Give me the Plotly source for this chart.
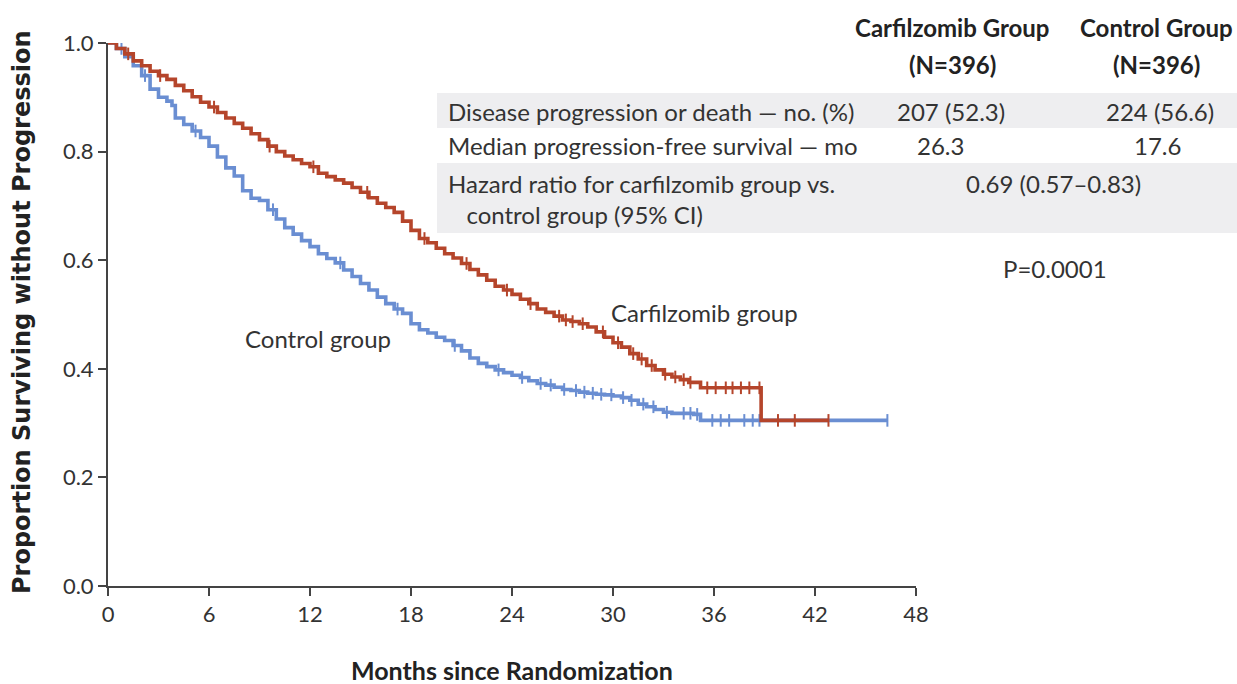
import numpy as np
import plotly.graph_objects as go

# Kaplan-Meier step estimates (months, proportion progression-free)
carf_time = [0, 0.5, 1, 1.5, 2, 2.5, 3, 3.5, 4, 4.5, 5, 5.5, 6, 6.5, 7, 7.5, 8, 8.5, 9, 9.5,
             10, 10.5, 11, 11.5, 12, 12.5, 13, 13.5, 14, 14.5, 15, 15.5, 16, 16.5, 17, 17.5,
             18, 18.5, 19, 19.5, 20, 20.5, 21, 21.5, 22, 22.5, 23, 23.5, 24, 24.5, 25, 25.5,
             26, 26.5, 27, 27.5, 28, 28.5, 29, 29.5, 30, 30.5, 31, 31.5, 32, 32.5, 33, 33.5,
             34, 34.5, 35.2, 38.8, 42.8]
carf_surv = [1.0, 0.99, 0.98, 0.967, 0.958, 0.948, 0.94, 0.933, 0.922, 0.912, 0.901, 0.891,
             0.882, 0.872, 0.862, 0.852, 0.843, 0.833, 0.822, 0.81, 0.80, 0.792, 0.785, 0.778,
             0.772, 0.76, 0.754, 0.748, 0.742, 0.734, 0.725, 0.715, 0.705, 0.697, 0.688, 0.672,
             0.655, 0.64, 0.632, 0.622, 0.612, 0.604, 0.594, 0.583, 0.573, 0.563, 0.552, 0.545,
             0.537, 0.528, 0.52, 0.51, 0.504, 0.497, 0.49, 0.487, 0.483, 0.477, 0.468, 0.458,
             0.448, 0.44, 0.428, 0.418, 0.406, 0.398, 0.39, 0.385, 0.38, 0.375, 0.365, 0.305,
             0.305]

ctrl_time = [0, 0.5, 1, 1.5, 2, 2.5, 3, 3.5, 3.8, 4, 4.5, 5, 5.5, 6, 6.5, 7, 7.5, 8, 8.5, 9,
             9.5, 10, 10.5, 11, 11.5, 12, 12.5, 13, 13.5, 14, 14.5, 15, 15.5, 16, 16.5, 17,
             17.5, 18, 18.5, 19, 19.5, 20, 20.5, 21, 21.5, 22, 22.5, 23, 23.5, 24, 24.5, 25,
             25.5, 26, 26.5, 27, 27.5, 28, 28.5, 29, 29.5, 30, 30.5, 31, 31.5, 32, 32.5, 33,
             33.5, 34.8, 35.2, 46.3]
ctrl_surv = [1.0, 0.99, 0.975, 0.958, 0.94, 0.915, 0.9, 0.893, 0.885, 0.862, 0.85, 0.838,
             0.826, 0.81, 0.79, 0.77, 0.755, 0.728, 0.714, 0.71, 0.693, 0.676, 0.66, 0.648,
             0.636, 0.625, 0.612, 0.603, 0.595, 0.582, 0.57, 0.557, 0.545, 0.532, 0.52, 0.51,
             0.502, 0.483, 0.472, 0.466, 0.458, 0.452, 0.443, 0.433, 0.42, 0.41, 0.404, 0.398,
             0.393, 0.388, 0.384, 0.378, 0.373, 0.37, 0.366, 0.362, 0.36, 0.357, 0.355, 0.353,
             0.352, 0.35, 0.347, 0.342, 0.335, 0.33, 0.325, 0.32, 0.318, 0.316, 0.305, 0.305]

# Censoring times (months)
carf_cens = [1.2, 3.1, 6.3, 9.6, 12.2, 15.4, 18.8, 21.3, 23.7, 25.1, 26.8, 27.2, 27.6, 28.2,
             29.4, 30.3, 31.2, 31.7, 32.3, 33.1, 33.7, 34.2, 34.6, 35.6, 36.1, 36.7, 37.1,
             37.6, 38.1, 38.7, 39.8, 40.8, 42.8]
ctrl_cens = [0.8, 2.2, 5.2, 9.8, 13.8, 17.2, 20.6, 23.2, 24.6, 25.7, 26.3, 27.1, 27.8, 28.3,
             28.8, 29.3, 29.9, 30.6, 31.1, 31.8, 32.4, 33.2, 34.2, 34.6, 35.0, 35.9, 36.4,
             36.9, 37.8, 38.3, 38.7, 46.3]

x_ticks = [0, 6, 12, 18, 24, 30, 36, 42, 48]
y_ticks = [0.0, 0.2, 0.4, 0.6, 0.8, 1.0]

group_head = ["Carfilzomib Group", "Control Group"]
group_n = ["(N=396)", "(N=396)"]
row_labels = ["Disease progression or death \u2014 no. (%)",
              "Median progression-free survival \u2014 mo",
              "Hazard ratio for carfilzomib group vs.<br>   control group (95% CI)"]
carf_vals = ["207 (52.3)", "26.3"]
ctrl_vals = ["224 (56.6)", "17.6"]
hazard_text = "0.69 (0.57\u20130.83)"
p_text = "P=0.0001"

RED = "#B5452B"
BLUE = "#6A8ED2"
INK = "#333333"
FONT = "Lato"

W, H = 1237, 684
ML, MR, MT, MB = 108, 321, 43, 98
PW, PH = W - ML - MR, H - MT - MB


def px(x):
    return (x - ML) / PW


def py(y):
    return (H - MB - y) / PH


def step_at(times, surv, t):
    idx = np.searchsorted(np.asarray(times), np.asarray(t), side="right") - 1
    return np.asarray(surv)[idx]


fig = go.Figure()
for times, surv, cens, col, name in [(ctrl_time, ctrl_surv, ctrl_cens, BLUE, "Control"),
                                     (carf_time, carf_surv, carf_cens, RED, "Carfilzomib")]:
    fig.add_trace(go.Scatter(x=times, y=surv, mode="lines", line=dict(color=col, width=3.6, shape="hv"),
                             name=name, showlegend=False, hoverinfo="skip"))
    fig.add_trace(go.Scatter(x=cens, y=step_at(times, surv, cens), mode="markers",
                             marker=dict(symbol="line-ns", size=9, line=dict(color=col, width=2)),
                             showlegend=False, hoverinfo="skip"))

shapes = [
    dict(type="rect", xref="paper", yref="paper", x0=px(437), x1=px(1237), y0=py(128), y1=py(93),
         fillcolor="#EEEEF0", line=dict(width=0), layer="below"),
    dict(type="rect", xref="paper", yref="paper", x0=px(437), x1=px(1237), y0=py(233), y1=py(163),
         fillcolor="#EEEEF0", line=dict(width=0), layer="below"),
]

ann = []


def add(text, x, y, size=24, anchor="center", bold=False, color=INK, family=FONT, angle=0):
    ann.append(dict(text=f"<b>{text}</b>" if bold else text, x=px(x), y=py(y), xref="paper",
                    yref="paper", xanchor=anchor, yanchor="middle", showarrow=False, textangle=angle,
                    align="center" if anchor == "center" else "left",
                    font=dict(family=family, size=size, color=color)))


add(group_head[0], 952, 27, size=24, bold=True, color="#222222")
add(group_n[0], 952, 64, size=24, bold=True, color="#222222")
add(group_head[1], 1156, 27, size=24, bold=True, color="#222222")
add(group_n[1], 1156, 64, size=24, bold=True, color="#222222")
add(row_labels[0], 446, 111, anchor="left")
add(row_labels[1], 446, 146, anchor="left")
add(row_labels[2], 446, 199, anchor="left")
add(carf_vals[0], 951, 111)
add(ctrl_vals[0], 1160, 111)
add(carf_vals[1], 940, 146)
add(ctrl_vals[1], 1157, 146)
add(hazard_text, 1053, 183)
add(p_text, 1055, 268)
add("Carfilzomib group", 704, 312)
add("Control group", 318, 339)
add("Months since Randomization", 512, 670, size=25, bold=True, color="#222222")
add("Proportion Surviving without Progression", 22, 312, size=24, bold=True, color="#222222",
    family="DejaVu Sans", angle=-90)

axis_common = dict(showline=True, linecolor="#444444", linewidth=2, ticks="outside", ticklen=8,
                   tickwidth=2, tickcolor="#444444", showgrid=False, zeroline=False,
                   tickfont=dict(family=FONT, size=22, color=INK))

fig.update_layout(
    width=W, height=H, margin=dict(l=ML, r=MR, t=MT, b=MB),
    paper_bgcolor="white", plot_bgcolor="white",
    xaxis=dict(range=[0, 48], tickvals=x_ticks, ticktext=[str(v) for v in x_ticks], **axis_common),
    yaxis=dict(range=[0, 1.0], tickvals=y_ticks, ticktext=[f"{v:.1f}" for v in y_ticks], **axis_common),
    shapes=shapes, annotations=ann,
)

fig.write_html("out.html")
